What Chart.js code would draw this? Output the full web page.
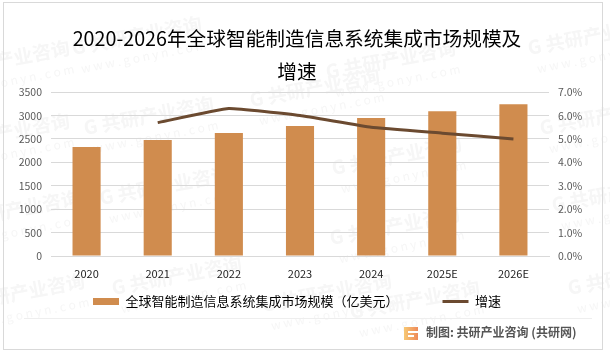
<!DOCTYPE html>
<html lang="zh">
<head>
<meta charset="utf-8">
<title>全球智能制造信息系统集成市场规模及增速</title>
<script src="https://cdn.jsdelivr.net/npm/chart.js@4"></script>
<style>
  html, body { margin: 0; background: #fff; }
  canvas { display: block; }
</style>
</head>
<body>
<canvas id="grafico" width="610" height="356"></canvas>
<script>
const categorias = ['2020', '2021', '2022', '2023', '2024', '2025E', '2026E'];
const mercado = [2330, 2480, 2630, 2780, 2950, 3095, 3245];
const crescimento = [null, 5.7, 6.3, 6.0, 5.5, 5.25, 5.0];
const titulo = ['2020-2026年全球智能制造信息系统集成市场规模及', '增速'];
const nomeMercado = '全球智能制造信息系统集成市场规模（亿美元）';
const nomeCrescimento = '增速';
const rodape = '制图: 共研产业咨询 (共研网)';
const fonte = '"Noto Sans CJK SC", "Noto Sans", sans-serif';

// marca d'agua: [x, y] de cada carimbo
const carimbos = [
    [72, 48], [84, 128], [100, 198], [112, 288], [250, 100], [262, 305], [326, 72],
    [332, 168], [330, 238], [350, 312], [528, 48], [540, 128], [552, 205], [568, 288],
    [-60, 72], [-60, 145], [-50, 222], [-45, 305]
];

const fundo = {
    id: 'fundo',
    afterLayout(chart) {
        // sobe a legenda: o padding grande so serve para afastar os dois itens
        chart.legend.top -= 30;
        chart.legend.bottom -= 30;
    },
    beforeDraw(chart) {
        const c = chart.ctx;
        c.save();
        c.fillStyle = '#fff';
        c.fillRect(0, 0, 610, 356);
        carimbos.forEach(([x, y]) => {
            c.save();
            c.translate(x, y);
            c.rotate(-0.19);
            c.fillStyle = '#f6f6f6';
            c.font = 'bold 19px ' + fonte;
            c.textBaseline = 'middle';
            c.fillText('G 共研产业咨询', 0, 0);
            c.font = '12px ' + fonte;
            c.fillText('w w w . g o n y n . c o m', 5, 22);
            c.restore();
        });
        c.restore();
    },
    afterDraw(chart) {
        const c = chart.ctx;
        c.save();
        c.strokeStyle = '#d9d9d9';
        c.lineWidth = 1;
        c.strokeRect(3.5, 2.5, 599, 347);
        c.strokeStyle = '#eeeeee';
        c.beginPath();
        c.moveTo(24, 318.5);
        c.lineTo(592, 318.5);
        c.stroke();
        // logo
        const g = c.createLinearGradient(404, 0, 418, 0);
        g.addColorStop(0, '#f7c873');
        g.addColorStop(1, '#ee8a5a');
        c.fillStyle = g;
        c.fillRect(404, 327, 14, 13);
        c.fillStyle = '#fff';
        c.fillRect(408, 331, 10, 2);
        c.fillRect(408, 335, 6, 2);
        c.fillStyle = '#555';
        c.font = 'bold 12px ' + fonte;
        c.textBaseline = 'middle';
        c.fillText(rodape, 426, 332);
        c.restore();
    }
};

new Chart(document.getElementById('grafico').getContext('2d'), {
    data: {
        labels: categorias,
        datasets: [
            {
                type: 'line',
                label: nomeCrescimento,
                data: crescimento,
                yAxisID: 'y2',
                borderColor: '#6b4a30',
                backgroundColor: '#6b4a30',
                borderWidth: 3,
                tension: 0.1,
                pointRadius: 0,
                order: 1
            },
            {
                type: 'bar',
                label: nomeMercado,
                data: mercado,
                yAxisID: 'y',
                backgroundColor: '#d08c4e',
                barPercentage: 0.79,
                categoryPercentage: 0.5,
                order: 2
            }
        ]
    },
    options: {
        responsive: false,
        animation: false,
        layout: { padding: { left: 0, right: 16, top: 0, bottom: 8 } },
        plugins: {
            title: {
                display: true,
                text: titulo,
                color: '#000',
                font: { family: fonte, size: 19.7, weight: 'normal', lineHeight: 1.68 },
                padding: { top: 22, bottom: 4 }
            },
            legend: {
                position: 'bottom',
                reverse: true,
                labels: {
                    usePointStyle: true,
                    pointStyleWidth: 26,
                    boxHeight: 7,
                    color: '#000',
                    padding: 44,
                    font: { family: fonte, size: 13 },
                    generateLabels(chart) {
                        const itens = Chart.defaults.plugins.legend.labels.generateLabels(chart);
                        itens.forEach(i => {
                            i.pointStyle = i.datasetIndex === 0 ? 'line' : 'rect';
                            i.lineWidth = i.datasetIndex === 0 ? 3 : 0;
                        });
                        return itens;
                    }
                }
            },
            tooltip: { enabled: false }
        },
        scales: {
            x: {
                afterFit(e) { e.height = 25; },
                grid: { display: false },
                border: { color: '#d9d9d9' },
                ticks: { color: '#222', font: { family: fonte, size: 11 }, padding: 3, maxRotation: 0 }
            },
            y: {
                min: 0,
                max: 3500,
                afterFit(e) { e.width = 51; },
                grid: { color: '#d9d9d9', drawTicks: false },
                border: { display: false },
                ticks: { stepSize: 500, color: '#595959', padding: 9, font: { family: fonte, size: 10.5 }, callback: v => String(v) }
            },
            y2: {
                position: 'right',
                min: 0,
                max: 7,
                afterFit(e) { e.width = 45; },
                grid: { display: false },
                border: { display: false },
                ticks: {
                    stepSize: 1,
                    color: '#595959',
                    padding: 1,
                    font: { family: fonte, size: 10.5 },
                    callback: v => v.toFixed(1) + '%'
                }
            }
        }
    },
    plugins: [fundo]
});
</script>
</body>
</html>
